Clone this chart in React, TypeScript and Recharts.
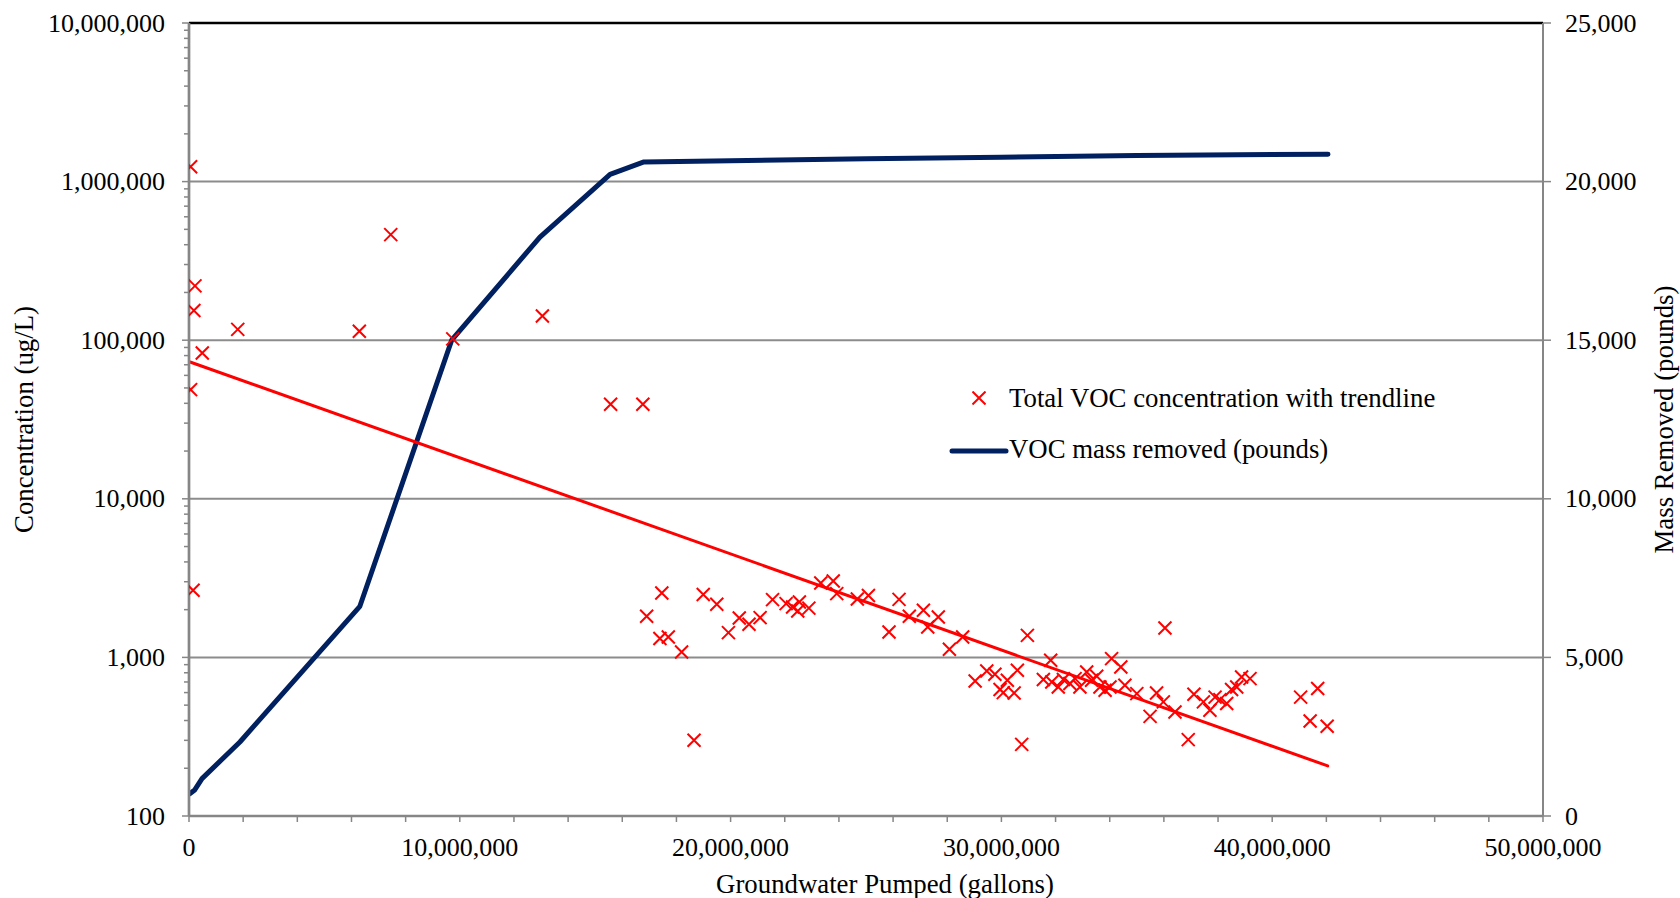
import { ComposedChart, Line, Scatter, XAxis, YAxis, ReferenceLine } from 'recharts';

// total VOC samples: gallons pumped vs concentration (ug/L)
const samplePumped = [
  0.06e6, 0.06e6, 0.15e6, 0.18e6, 0.22e6, 0.49e6, 1.8e6, 6.29e6, 7.45e6, 9.74e6, 13.05e6, 15.57e6, 16.76e6,
  16.9e6, 17.39e6, 17.46e6, 17.7e6, 18.19e6, 18.65e6, 18.99e6, 19.49e6, 19.92e6, 20.32e6, 20.68e6, 21.09e6,
  21.55e6, 22.05e6, 22.29e6, 22.48e6, 22.54e6, 22.89e6, 23.33e6, 23.79e6, 23.92e6, 24.68e6, 25.09e6, 25.85e6,
  26.22e6, 26.6e6, 27.12e6, 27.28e6, 27.67e6, 28.08e6, 28.57e6,
  29.03e6, 29.46e6, 29.76e6, 29.95e6, 30.07e6, 30.22e6, 30.47e6, 30.59e6, 30.75e6, 30.96e6,
  31.55e6, 31.82e6, 31.86e6, 32.1e6, 32.29e6, 32.53e6, 32.72e6, 32.9e6, 33.15e6, 33.33e6,
  33.52e6, 33.64e6, 33.83e6, 34.01e6, 34.07e6, 34.41e6, 34.56e6, 35.0e6, 35.49e6, 35.73e6,
  35.98e6, 36.04e6, 36.41e6, 36.9e6, 37.11e6, 37.46e6, 37.7e6, 37.89e6, 38.07e6, 38.32e6,
  38.5e6, 38.69e6, 38.87e6, 39.18e6, 41.05e6, 41.4e6, 41.68e6, 42.03e6,
];
const sampleConc = [
  1240000, 48800, 2650, 154000, 220000, 83000, 117000, 114000, 463000, 102000, 142000, 39500, 39500,
  1816, 1315, 2548, 1346, 1081, 300, 2490, 2162, 1433, 1772, 1617, 1782,
  2314, 2184, 2080, 1963, 2235, 2046, 2945, 3034, 2523, 2333, 2459, 1445,
  2321, 1816, 1983, 1556, 1799, 1125, 1346,
  710, 820, 783, 627, 600, 717, 597, 830, 283, 1377,
  725, 960, 700, 651, 725, 684, 735, 651, 809, 718,
  761, 651, 621, 651, 982, 869, 667, 591, 425, 597,
  524, 1531, 453, 303, 585, 524, 464, 562, 542, 512,
  627, 651, 752, 735, 562, 397, 636, 368,
];

// exponential trendline end points
const trendPumped = [0.04e6, 42.05e6];
const trendConc = [72880, 207];

// cumulative VOC mass removed (pounds)
const massPumped = [0.03e6, 0.2e6, 0.48e6, 1.88e6, 6.31e6, 9.7e6, 12.96e6, 15.55e6, 16.8e6, 20e6, 25e6, 30e6, 35e6, 42.06e6];
const massRemoved = [706, 810, 1179, 2333, 6611, 15000, 18253, 20230, 20620, 20660, 20720, 20770, 20820, 20865];

const xTicks = [
  0, 2e6, 4e6, 6e6, 8e6, 10e6, 12e6, 14e6, 16e6, 18e6, 20e6, 22e6, 24e6,
  26e6, 28e6, 30e6, 32e6, 34e6, 36e6, 38e6, 40e6, 42e6, 44e6, 46e6, 48e6, 50e6,
];
const xLabelTicks = [0, 10e6, 20e6, 30e6, 40e6, 50e6];
const decades = [100, 1000, 10000, 100000, 1000000, 10000000];
const minorSteps = [2, 3, 4, 5, 6, 7, 8, 9];
const rightTicks = [0, 5000, 10000, 15000, 20000, 25000];

const leftTicks = [
  ...decades,
  ...decades.slice(0, -1).flatMap((d) => minorSteps.map((m) => d * m)),
].sort((a, b) => a - b);

const scatterData = samplePumped.map((x, i) => ({ x, c: sampleConc[i] }));
const trendData = trendPumped.map((x, i) => ({ x, c: trendConc[i] }));
const massData = massPumped.map((x, i) => ({ x, mass: massRemoved[i] }));

const FONT = "'Liberation Serif', 'Times New Roman', serif";
const FS = 26;
const TITLE_FS = 26.8;
const AXIS = '#868686';
const GRID = '#8c8c8c';
const RED = '#FF0000';
const NAVY = '#002060';

const fmt = (v: number) => v.toLocaleString('en-US');

const LeftTick = (props: any) => {
  const { x, y, payload } = props;
  const major = decades.includes(payload.value);
  return (
    <g>
      <line x1={x - (major ? 7 : 5)} x2={x} y1={y} y2={y} stroke={AXIS} strokeWidth={1.5} />
      {major && (
        <text x={x - 24} y={y} textAnchor="end" dominantBaseline="central" fontFamily={FONT} fontSize={FS} fill="#000">
          {fmt(payload.value)}
        </text>
      )}
    </g>
  );
};

const RightTick = (props: any) => {
  const { x, y, payload } = props;
  return (
    <g>
      <line x1={x} x2={x + 8} y1={y} y2={y} stroke={AXIS} strokeWidth={1.5} />
      <text x={x + 22} y={y} textAnchor="start" dominantBaseline="central" fontFamily={FONT} fontSize={FS} fill="#000">
        {fmt(payload.value)}
      </text>
    </g>
  );
};

const BottomTick = (props: any) => {
  const { x, y, payload } = props;
  const labelled = xLabelTicks.includes(payload.value);
  return (
    <g>
      <line x1={x} x2={x} y1={y} y2={y + 6} stroke={AXIS} strokeWidth={1.5} />
      {labelled && (
        <text x={x} y={y + 31} textAnchor="middle" dominantBaseline="central" fontFamily={FONT} fontSize={FS} fill="#000">
          {fmt(payload.value)}
        </text>
      )}
    </g>
  );
};

const Cross = (props: any) => {
  const { cx, cy } = props;
  if (cx == null || cy == null) return <g />;
  const h = 6.5;
  return (
    <path
      d={`M${cx - h},${cy - h}L${cx + h},${cy + h}M${cx - h},${cy + h}L${cx + h},${cy - h}`}
      stroke={RED}
      strokeWidth={2}
      fill="none"
    />
  );
};

const xTitle = (props: any) => {
  const vb = props.viewBox || { x: 189, y: 816, width: 1354, height: 82 };
  return (
    <text x={vb.x + vb.width / 2 + 19} y={vb.y + 68} textAnchor="middle" dominantBaseline="central" fontFamily={FONT} fontSize={TITLE_FS} fill="#000">
      Groundwater Pumped (gallons)
    </text>
  );
};

const leftTitle = (props: any) => {
  const vb = props.viewBox || { x: 0, y: 23, width: 189, height: 793 };
  const cx = vb.x + 24;
  const cy = vb.y + vb.height / 2;
  return (
    <text x={cx} y={cy} transform={`rotate(-90 ${cx} ${cy})`} textAnchor="middle" dominantBaseline="central" fontFamily={FONT} fontSize={TITLE_FS} fill="#000">
      Concentration (ug/L)
    </text>
  );
};

const rightTitle = (props: any) => {
  const vb = props.viewBox || { x: 1543, y: 23, width: 137, height: 793 };
  const cx = vb.x + 121;
  const cy = vb.y + vb.height / 2;
  return (
    <text x={cx} y={cy} transform={`rotate(-90 ${cx} ${cy})`} textAnchor="middle" dominantBaseline="central" fontFamily={FONT} fontSize={TITLE_FS} fill="#000">
      Mass Removed (pounds)
    </text>
  );
};

export default function App() {
  return (
    <div style={{ position: 'absolute', left: 0, top: 0, width: 1680, height: 898, background: '#fff' }}>
      <ComposedChart width={1680} height={898} margin={{ top: 23, right: 0, bottom: 0, left: 0 }}>
        <XAxis
          dataKey="x"
          type="number"
          domain={[0, 50000000]}
          ticks={xTicks}
          interval={0}
          allowDataOverflow
          height={82}
          tickSize={0}
          tickMargin={0}
          tickLine={false}
          tick={BottomTick}
          axisLine={{ stroke: AXIS, strokeWidth: 2.5 }}
          label={xTitle}
        />
        <YAxis
          yAxisId="left"
          orientation="left"
          scale="log"
          type="number"
          domain={[100, 10000000]}
          ticks={leftTicks}
          interval={0}
          allowDataOverflow
          width={189}
          tickSize={0}
          tickMargin={0}
          tickLine={false}
          tick={LeftTick}
          axisLine={{ stroke: AXIS, strokeWidth: 2.7 }}
          label={leftTitle}
        />
        <YAxis
          yAxisId="right"
          orientation="right"
          type="number"
          domain={[0, 25000]}
          ticks={rightTicks}
          interval={0}
          allowDataOverflow
          width={137}
          tickSize={0}
          tickMargin={0}
          tickLine={false}
          tick={RightTick}
          axisLine={{ stroke: AXIS, strokeWidth: 2 }}
          label={rightTitle}
        />
        {decades.slice(1, -1).map((d) => (
          <ReferenceLine key={d} y={d} yAxisId="left" stroke={GRID} strokeWidth={2} />
        ))}
        <ReferenceLine y={10000000} yAxisId="left" stroke="#000" strokeWidth={2.5} />
        <Line
          data={massData}
          dataKey="mass"
          yAxisId="right"
          type="linear"
          stroke={NAVY}
          strokeWidth={5}
          strokeLinecap="round"
          strokeLinejoin="round"
          dot={false}
          activeDot={false}
          isAnimationActive={false}
        />
        <Scatter data={scatterData} dataKey="c" yAxisId="left" shape={Cross} isAnimationActive={false} />
        <Line
          data={trendData}
          dataKey="c"
          yAxisId="left"
          type="linear"
          stroke={RED}
          strokeWidth={3}
          strokeLinecap="round"
          dot={false}
          activeDot={false}
          isAnimationActive={false}
        />
      </ComposedChart>
      <div style={{ position: 'absolute', left: 972, top: 391, width: 14, height: 14 }}>
        <svg width={14} height={14}>
          <path d="M0.5,0.5L13.5,13.5M0.5,13.5L13.5,0.5" stroke={RED} strokeWidth={2} />
        </svg>
      </div>
      <div style={{ position: 'absolute', left: 1009, top: 381, height: 34, lineHeight: '34px', fontFamily: FONT, fontSize: TITLE_FS, color: '#000', whiteSpace: 'nowrap' }}>
        Total VOC concentration with trendline
      </div>
      <div style={{ position: 'absolute', left: 948, top: 443, width: 62, height: 12 }}>
        <svg width={62} height={12}>
          <line x1={4} y1={6} x2={58} y2={6} stroke={NAVY} strokeWidth={5} strokeLinecap="round" />
        </svg>
      </div>
      <div style={{ position: 'absolute', left: 1009, top: 432, height: 34, lineHeight: '34px', fontFamily: FONT, fontSize: TITLE_FS, color: '#000', whiteSpace: 'nowrap' }}>
        VOC mass removed (pounds)
      </div>
    </div>
  );
}
